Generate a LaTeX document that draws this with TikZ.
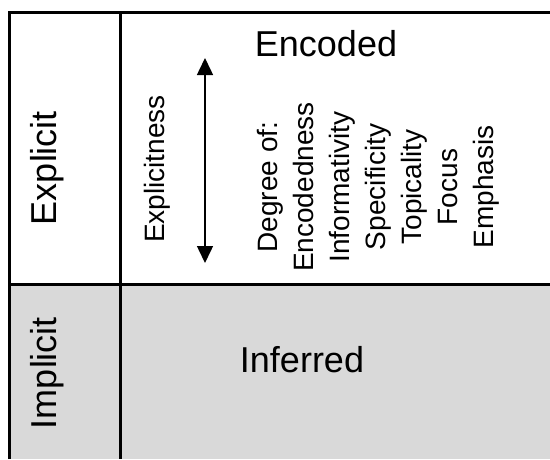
\documentclass[tikz,border=0pt]{standalone}
\usepackage{fontspec}
\setmainfont{Liberation Sans}
\usetikzlibrary{arrows.meta,positioning}
\definecolor{implgray}{RGB}{217,217,217}

\begin{document}
\begin{tikzpicture}[x=1pt,y=-1pt,biglbl/.style={inner sep=0pt,font=\fontsize{36}{40}\selectfont},smalllbl/.style={inner sep=0pt,align=center,font=\fontsize{28}{36}\selectfont},cellline/.style={line width=3pt},dblarr/.style={{Triangle[length=17pt,width=16pt]}-{Triangle[length=17pt,width=16pt]},line width=1.5pt}]
\useasboundingbox (0,0) rectangle (550,459);
% implicit row
\fill[implgray] (9,284) rectangle (550,459);
\draw[cellline] (9,459)--(9,12)--(550,12);\draw[cellline] (120,12)--(120,459);\draw[cellline] (9,284)--(550,284);
\node[biglbl,rotate=90] (expl) at (47,168) {Explicit};
\node[biglbl,rotate=90] (impl) at (47,373) {Implicit};
\node[biglbl] (enc) at (326,44) {Encoded};
\node[biglbl] (inf) at (302,360) {Inferred};
\node[smalllbl,rotate=90] (explness) at (157,169) {Explicitness};
\node[smalllbl,rotate=90] (degree) at (378,187) {Degree of:\\Encodedness\\Informativity\\Specificity\\Topicality\\Focus\\Emphasis};
\coordinate (atop) at (205,58);\coordinate (abot) at (205,263);
\draw[dblarr] (atop)--(abot);
\end{tikzpicture}
\end{document}
